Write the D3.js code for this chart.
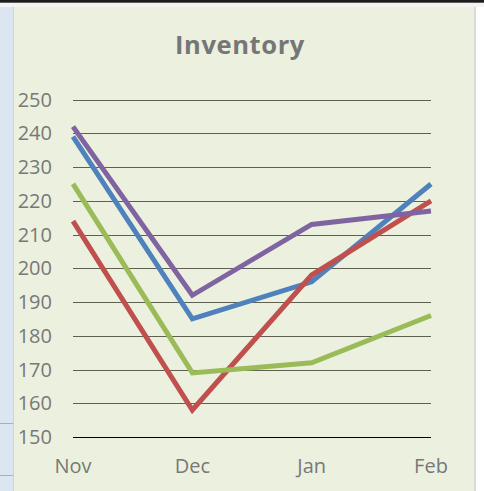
<!DOCTYPE html>
<html>
<head>
<meta charset="utf-8">
<script src="https://cdn.jsdelivr.net/npm/d3@7"></script>
<style>
  html, body { margin: 0; padding: 0; background: #ffffff; }
  svg { display: block; }
</style>
</head>
<body>
<div class="chart"></div>
<script>
// data
var months = ["Nov", "Dec", "Jan", "Feb"];
var yTicks = [150, 160, 170, 180, 190, 200, 210, 220, 230, 240, 250];
var blueSeries = [239, 185, 196, 225];
var redSeries = [214, 158, 198, 220];
var greenSeries = [225, 169, 172, 186];
var purpleSeries = [242, 192, 213, 217];
var seriesColors = ["#4f81bd", "#c0504d", "#9bbb59", "#8064a2"];

var width = 484,
height = 491,
plot = {top: 99.6, bottom: 437, left: 73, right: 431},
svg = d3.select(".chart").append("svg")
	.attr("width", width)
	.attr("height", height)

// surrounding sheet bits
svg.append("rect")
	.attr("x", 0).attr("y", 0)
	.attr("width", width).attr("height", height)
	.attr("fill", "#f3f3f3")
svg.append("rect")
	.attr("x", 0).attr("y", 0)
	.attr("width", width).attr("height", 2.7)
	.attr("fill", "#1c1c1c")
svg.append("rect")
	.attr("x", 0).attr("y", 7)
	.attr("width", 13).attr("height", height - 7)
	.attr("fill", "#dce6f2")
svg.selectAll(".cellline")
	.data([423, 475])
	.enter()
	.append("line")
	.attr("x1", 0).attr("x2", 13)
	.attr("y1", function(d) { return d + 0.5; })
	.attr("y2", function(d) { return d + 0.5; })
	.style("stroke", "#a6aebb")
svg.append("rect")
	.attr("x", 475).attr("y", 7)
	.attr("width", width - 475).attr("height", height - 7)
	.attr("fill", "#ffffff")

// chart area
svg.append("rect")
	.attr("x", 13).attr("y", 7)
	.attr("width", 462).attr("height", height - 7)
	.attr("fill", "#ebf1de")
svg.append("line")
	.attr("x1", 13.5).attr("x2", 13.5)
	.attr("y1", 7).attr("y2", height)
	.style("stroke", "#d0d8c4")
svg.append("line")
	.attr("x1", 475).attr("x2", 475)
	.attr("y1", 7).attr("y2", height)
	.style("stroke", "#d9d9d9")
	.style("stroke-width", 2)

var xScale = d3.scalePoint()
	.domain(months)
	.range([plot.left, plot.right]);

var yScale = d3.scaleLinear()
	.domain([150, 250])
	.range([plot.bottom, plot.top]);

// gridlines
svg.append("g")
	.attr("class", "grid")
	.selectAll("line")
	.data(yTicks)
	.enter()
	.append("line")
	.attr("x1", plot.left)
	.attr("x2", plot.right)
	.attr("y1", function(d) { return Math.round(yScale(d)) + 0.5; })
	.attr("y2", function(d) { return Math.round(yScale(d)) + 0.5; })
	.style("stroke", function(d) { return d == 150 ? "#000000" : "#5f6052"; })
	.style("stroke-width", 1)

// y tick labels
svg.append("g")
	.selectAll("text")
	.data(yTicks)
	.enter()
	.append("text")
	.text(function(d) { return d; })
	.attr("x", 52)
	.attr("y", function(d) { return yScale(d) + 7; })
	.attr("text-anchor", "end")
	.attr("font-family", "Open Sans")
	.attr("font-size", "20px")
	.attr("fill", "#787878")

// x labels
svg.append("g")
	.selectAll("text")
	.data(months)
	.enter()
	.append("text")
	.text(function(d) { return d; })
	.attr("x", function(d) { return xScale(d); })
	.attr("y", 473)
	.attr("text-anchor", "middle")
	.attr("font-family", "Open Sans")
	.attr("font-size", "20px")
	.attr("fill", "#787878")

// title
svg.append("text")
	.text("Inventory")
	.attr("x", 240)
	.attr("y", 54)
	.attr("text-anchor", "middle")
	.attr("font-family", "Open Sans")
	.attr("font-weight", "bold")
	.attr("font-size", "25.5px")
	.attr("letter-spacing", "0.6px")
	.attr("fill", "#767676")

// series lines
var line = d3.line()
	.x(function(d, i) { return xScale(months[i]); })
	.y(function(d) { return yScale(d); })

svg.append("g")
	.attr("class", "series")
	.selectAll("path")
	.data([blueSeries, redSeries, greenSeries, purpleSeries])
	.enter()
	.append("path")
	.attr("d", line)
	.attr("fill", "none")
	.style("stroke", function(d, i) { return seriesColors[i]; })
	.style("stroke-width", 5)
	.style("stroke-linejoin", "miter")
</script>
</body>
</html>
